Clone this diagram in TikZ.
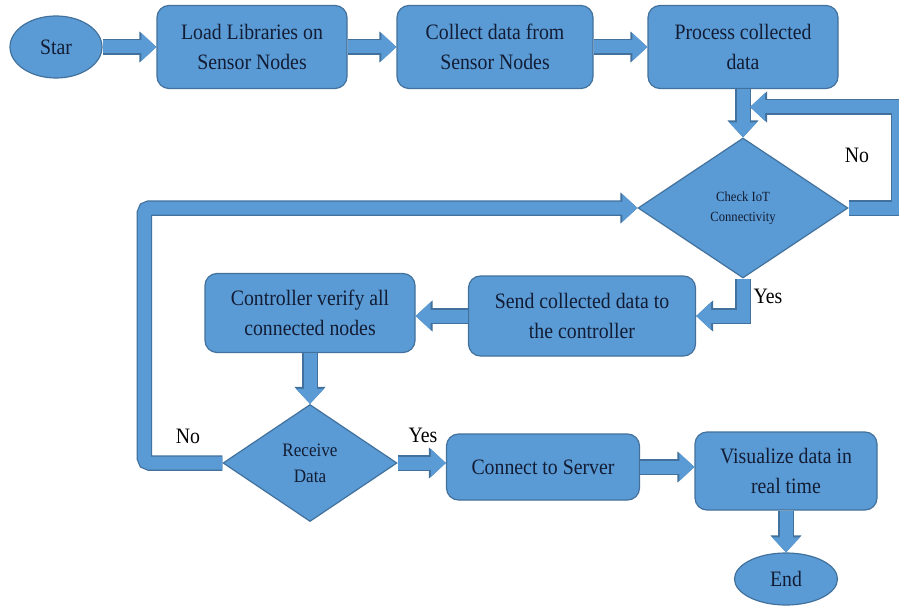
\documentclass[tikz,border=0pt]{standalone}
\usepackage{fontspec}
\setmainfont{Liberation Serif}[FakeStretch=0.9]
\usetikzlibrary{shapes.geometric,arrows.meta}
\definecolor{bfill}{RGB}{91,155,213}
\definecolor{bdark}{RGB}{65,113,156}
\definecolor{txt}{RGB}{18,28,52}
\tikzset{
  box/.style={draw=bdark, fill=bfill, line width=1.2pt, rounded corners=12pt, align=center, text=txt, inner sep=2pt,
    font=\fontsize{22}{30}\selectfont},
  term/.style={ellipse, draw=bdark, fill=bfill, line width=1.2pt, text=txt, inner sep=0pt,
    font=\fontsize{22}{26}\selectfont},
  decide/.style={diamond, draw=bdark, fill=bfill, line width=1.2pt, text=txt, inner sep=0pt, align=center},
  blk/.style={draw=bfill, line width=13pt, line join=miter,
    -{Triangle[width=27pt,length=15pt]},
    preaction={draw=bdark, line width=15.5pt, -{Triangle[width=30pt,length=17pt]}}},
  lbl/.style={text=black, font=\fontsize{22}{26}\selectfont},
}
\begin{document}
\begin{tikzpicture}[x=1pt,y=-1pt]
\useasboundingbox (0,0) rectangle (899,607);
\clip (0,0) rectangle (899,607);
\fill[white] (0,0) rectangle (899,607);
% nodes
\node[term, minimum width=92, minimum height=62] (star) at (56,47) {Star};
\node[box, minimum width=190, minimum height=83] (load) at (252,47) {Load Libraries on\\Sensor Nodes};
\node[box, minimum width=196, minimum height=83] (collect) at (495,47) {Collect data from\\Sensor Nodes};
\node[box, minimum width=190, minimum height=83] (process) at (743,47) {Process collected\\data};
\node[decide, minimum width=210, minimum height=140, font=\fontsize{14}{20}\selectfont] (check) at (743,208) {Check IoT\\Connectivity};
\node[box, minimum width=227, minimum height=80] (send) at (582,316) {Send collected data to\\the controller};
\node[box, minimum width=210, minimum height=79] (ctrl) at (310,313) {Controller verify all\\connected nodes};
\node[decide, minimum width=174, minimum height=117, font=\fontsize{19}{26}\selectfont] (recv) at (310,463) {Receive\\Data};
\node[box, minimum width=193, minimum height=66] (connect) at (543,467) {Connect to Server};
\node[box, minimum width=182, minimum height=78] (visual) at (786,471) {Visualize data in\\real time};
\node[term, minimum width=103, minimum height=52] (end) at (786,579) {End};
\coordinate (noin) at (750,107);
% connectors
\draw[blk] (star.east) -- (load.west);
\draw[blk] (load.east) -- (collect.west);
\draw[blk] (collect.east) -- (process.west);
\draw[blk] (process.south) -- (check.north);
\draw[blk] (check.east) -- ++(50,0) |- (noin);
\draw[blk] (check.south) |- (send.east);
\draw[blk] (send.west) -- (send.west -| ctrl.east);
\draw[blk] (ctrl.south) -- (recv.north);
\draw[blk, rounded corners=5pt] (recv.west) -- ++(-78,0) |- (check.west);
\draw[blk] (recv.east) -- (recv.east -| connect.west);
\draw[blk] (connect.east) -- (connect.east -| visual.west);
\draw[blk] (visual.south) -- (end.north);
% labels
\node[lbl] (no1) at (857,155) {No};
\node[lbl] (yes1) at (768,296) {Yes};
\node[lbl] (no2) at (188,436) {No};
\node[lbl] (yes2) at (423,435) {Yes};
\end{tikzpicture}
\end{document}
